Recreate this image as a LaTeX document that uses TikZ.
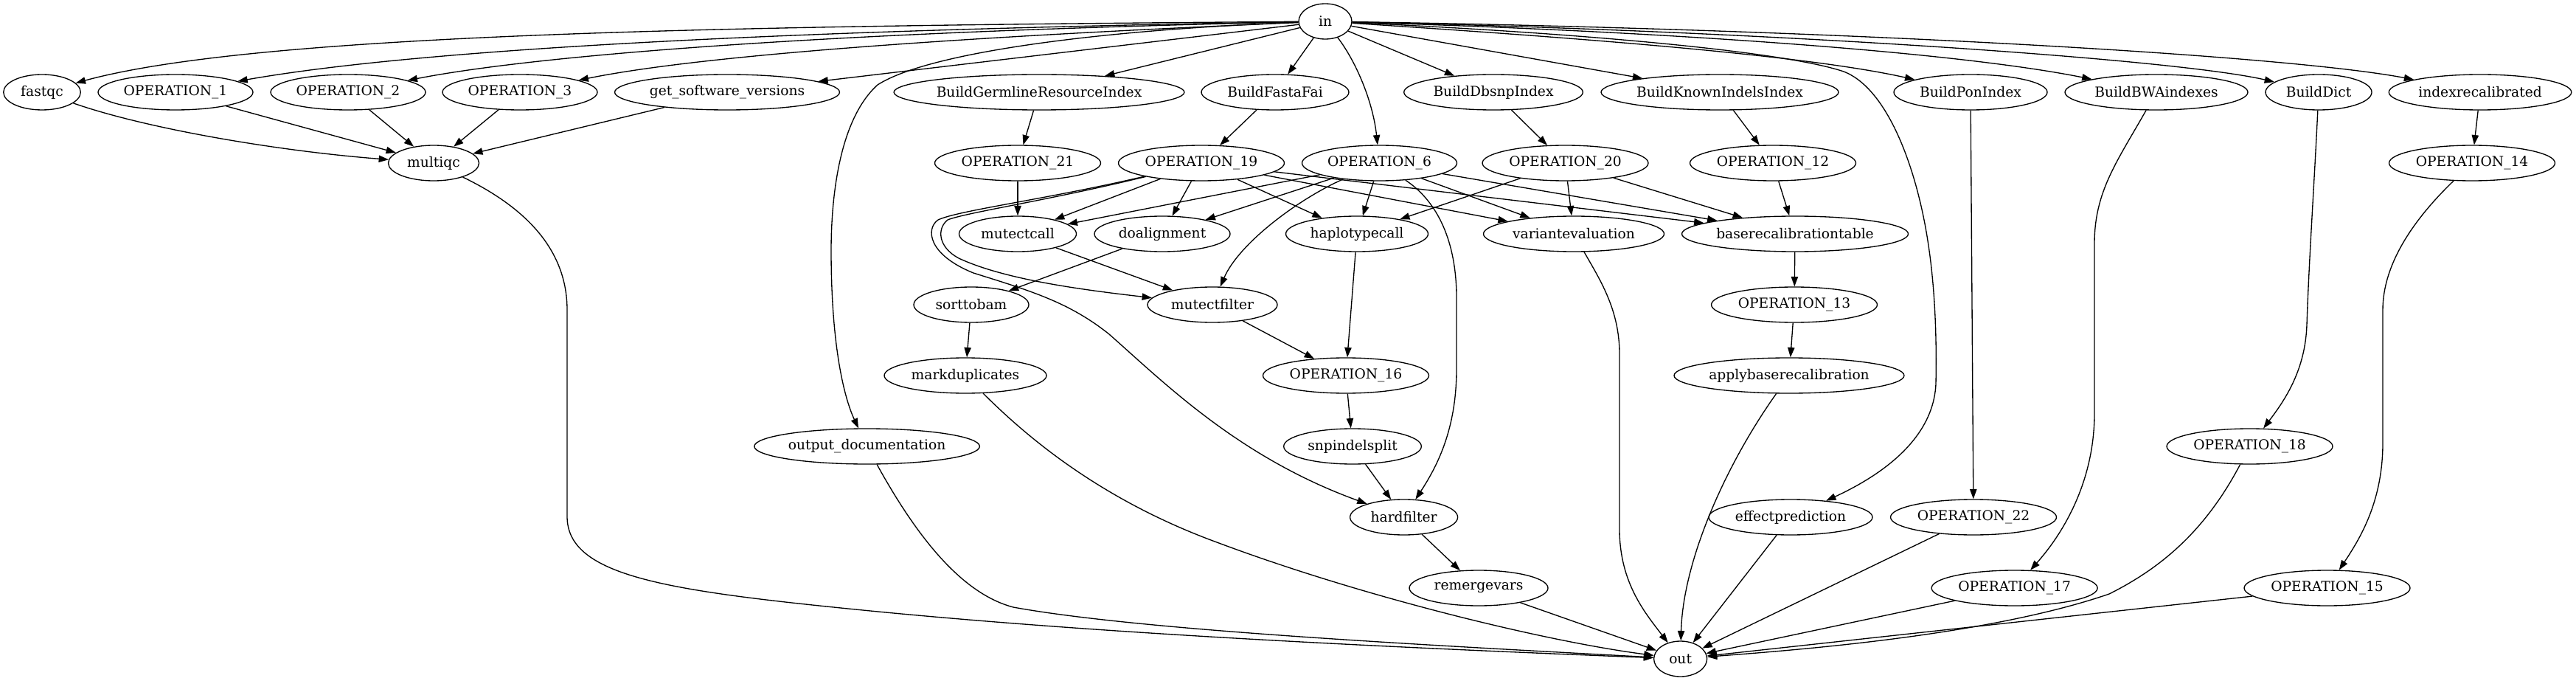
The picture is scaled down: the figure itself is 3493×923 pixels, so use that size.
\documentclass[tikz,border=0pt]{standalone}
\usepackage{fontspec}
\setmainfont{DejaVu Serif}
\usetikzlibrary{arrows.meta,shapes.geometric}
\begin{document}
\begin{tikzpicture}[x=0.75pt,y=-0.75pt,
  nd/.style={draw,ellipse,inner sep=0pt,minimum height=36pt,minimum width=#1,line width=1pt,font=\fontsize{14pt}{16pt}\selectfont},
  ed/.style={-{Triangle[length=10pt,width=7pt]},line width=1pt}]
\useasboundingbox (0,0) rectangle (3493,923);
% row 0
\node[nd=54pt] (in) at (1797,29) {in};
% row 1
\node[nd=78.4pt] (fastqc) at (57,125) {fastqc};
\node[nd=157.5pt] (op1) at (238,125) {OPERATION\_1};
\node[nd=157.5pt] (op2) at (472,125) {OPERATION\_2};
\node[nd=157.5pt] (op3) at (705,125) {OPERATION\_3};
\node[nd=228.75pt] (gsv) at (986,125) {get\_software\_versions};
\node[nd=293.6pt] (bgri) at (1409,125) {BuildGermlineResourceIndex};
\node[nd=150pt] (bff) at (1729,125) {BuildFastaFai};
\node[nd=182pt] (bdi) at (2025,125) {BuildDbsnpIndex};
\node[nd=241.5pt] (bkii) at (2332,125) {BuildKnownIndelsIndex};
\node[nd=156pt] (bpi) at (2672,125) {BuildPonIndex};
\node[nd=186pt] (bbwa) at (2924,125) {BuildBWAindexes};
\node[nd=108pt] (bd) at (3144,125) {BuildDict};
\node[nd=185.7pt] (ir) at (3363,125) {indexrecalibrated};
% row 2
\node[nd=92.25pt] (multiqc) at (588,221) {multiqc};
\node[nd=168.75pt] (op21) at (1380,221) {OPERATION\_21};
\node[nd=168.75pt] (op19) at (1629,221) {OPERATION\_19};
\node[nd=157.5pt] (op6) at (1870.5,221) {OPERATION\_6};
\node[nd=168.75pt] (op20) at (2122.5,221) {OPERATION\_20};
\node[nd=168.75pt] (op12) at (2404,221) {OPERATION\_12};
\node[nd=168.75pt] (op14) at (3352,221) {OPERATION\_14};
% row 3
\node[nd=119.25pt] (mutectcall) at (1380,317) {mutectcall};
\node[nd=138pt] (doalignment) at (1576,317) {doalignment};
\node[nd=144.75pt] (haplotypecall) at (1840,317) {haplotypecall};
\node[nd=183.75pt] (vareval) at (2134,317) {variantevaluation};
\node[nd=230.25pt] (brt) at (2434,317) {baserecalibrationtable};
% row 4
\node[nd=117pt] (sorttobam) at (1317,413) {sorttobam};
\node[nd=132pt] (mutectfilter) at (1644,413) {mutectfilter};
\node[nd=168.75pt] (op13) at (2433,413) {OPERATION\_13};
% row 5
\node[nd=165pt] (markdup) at (1309,509) {markduplicates};
\node[nd=168.75pt] (op16) at (1825,509) {OPERATION\_16};
\node[nd=234pt] (apply) at (2426,509) {applybaserecalibration};
% row 6
\node[nd=229.2pt] (od) at (1175.6,605) {output\_documentation};
\node[nd=140pt] (snp) at (1834,605) {snpindelsplit};
\node[nd=168.75pt] (op18) at (3050.5,605) {OPERATION\_18};
% row 7
\node[nd=109.5pt] (hardfilter) at (1903.6,701) {hardfilter};
\node[nd=166.5pt] (effp) at (2428,701) {effectprediction};
\node[nd=168.75pt] (op22) at (2676,701) {OPERATION\_22};
% row 8
\node[nd=141pt] (remergevars) at (2005,797) {remergevars};
\node[nd=168.75pt] (op17) at (2731.6,797) {OPERATION\_17};
\node[nd=168.75pt] (op15) at (3155.5,797) {OPERATION\_15};
% row 9
\node[nd=54pt] (out) at (2278.6,893) {out};

% edges from in
\draw[ed] (in) .. controls (1000,35) and (350,45) .. (fastqc);
\draw[ed] (in) .. controls (1000,42) and (550,70) .. (op1);
\draw[ed] (in) .. controls (1050,45) and (700,80) .. (op2);
\draw[ed] (in) .. controls (1300,50) and (950,75) .. (op3);
\draw[ed] (in) -- (gsv);
\draw[ed] (in) -- (bgri);
\draw[ed] (in) -- (bff);
\draw[ed] (in) .. controls (1840,85) and (1862,140) .. (op6);
\draw[ed] (in) -- (bdi);
\draw[ed] (in) -- (bkii);
\draw[ed] (in) .. controls (2150,52) and (2450,75) .. (bpi);
\draw[ed] (in) .. controls (2250,42) and (2650,70) .. (bbwa);
\draw[ed] (in) .. controls (2400,42) and (2950,80) .. (bd);
\draw[ed] (in) .. controls (2500,40) and (3100,75) .. (ir);
\draw[ed] (in) .. controls (2150,45) and (2420,70) .. (2500,97) .. controls (2560,120) and (2600,230) .. (2615,333) .. controls (2625,400) and (2626,470) .. (2625,520) .. controls (2622,590) and (2560,640) .. (effp);
\draw[ed] (in) .. controls (1500,40) and (1260,70) .. (1190,115) .. controls (1140,160) and (1127,260) .. (1127,340) .. controls (1127,470) and (1145,540) .. (od);

% multiqc
\draw[ed] (fastqc) .. controls (200,175) and (380,205) .. (multiqc);
\draw[ed] (op1) -- (multiqc);
\draw[ed] (op2) -- (multiqc);
\draw[ed] (op3) -- (multiqc);
\draw[ed] (gsv) -- (multiqc);
\draw[ed] (multiqc) .. controls (700,275) and (769,330) .. (769,420) -- (769,700) .. controls (769,780) and (900,800) .. (1160,826) .. controls (1500,860) and (1900,878) .. (out);

% row 1 to row 2
\draw[ed] (bgri) -- (op21);
\draw[ed] (bff) -- (op19);
\draw[ed] (bdi) -- (op20);
\draw[ed] (bkii) -- (op12);
\draw[ed] (bpi) -- (op22);
\draw[ed] (bbwa) .. controls (2870,220) and (2840,260) .. (2840,330) -- (2840,560) .. controls (2840,650) and (2800,720) .. (op17);
\draw[ed] (bd) .. controls (3138,250) and (3131,350) .. (3128,440) .. controls (3126,500) and (3100,540) .. (op18);
\draw[ed] (ir) -- (op14);
\draw[ed] (op14) .. controls (3270,300) and (3231,360) .. (3231,420) -- (3231,600) .. controls (3231,680) and (3200,730) .. (op15);

% row 2 to below
\draw[ed] (op21) -- (mutectcall);
\draw[ed] (op19) -- (mutectcall);
\draw[ed] (op19) -- (doalignment);
\draw[ed] (op19) -- (haplotypecall);
\draw[ed] (op19) -- (vareval);
\draw[ed] (op19) -- (brt);
\draw[ed] (op19) .. controls (1420,272) and (1310,288) .. (1285,298) .. controls (1270,310) and (1272,335) .. (1300,350) .. controls (1360,378) and (1460,392) .. (mutectfilter);
\draw[ed] (op19) .. controls (1420,270) and (1300,285) .. (1272,298) .. controls (1255,310) and (1258,345) .. (1320,370) .. controls (1400,395) and (1450,410) .. (1504,453) .. controls (1580,520) and (1680,620) .. (hardfilter);
\draw[ed] (op6) -- (mutectcall);
\draw[ed] (op6) -- (doalignment);
\draw[ed] (op6) -- (haplotypecall);
\draw[ed] (op6) -- (vareval);
\draw[ed] (op6) -- (brt);
\draw[ed] (op6) .. controls (1760,270) and (1680,330) .. (mutectfilter);
\draw[ed] (op6) .. controls (1945,270) and (1974,320) .. (1975,400) -- (1975,500) .. controls (1975,580) and (1950,630) .. (hardfilter);
\draw[ed] (op20) -- (haplotypecall);
\draw[ed] (op20) -- (vareval);
\draw[ed] (op20) -- (brt);
\draw[ed] (op12) -- (brt);

% lower chain
\draw[ed] (mutectcall) -- (mutectfilter);
\draw[ed] (doalignment) -- (sorttobam);
\draw[ed] (sorttobam) -- (markdup);
\draw[ed] (haplotypecall) -- (op16);
\draw[ed] (mutectfilter) -- (op16);
\draw[ed] (op16) -- (snp);
\draw[ed] (snp) -- (hardfilter);
\draw[ed] (hardfilter) -- (remergevars);
\draw[ed] (brt) -- (op13);
\draw[ed] (op13) -- (apply);

% into out
\draw[ed] (markdup) .. controls (1400,600) and (1500,680) .. (1650,735) .. controls (1850,810) and (2100,870) .. (out);
\draw[ed] (remergevars) -- (out);
\draw[ed] (od) .. controls (1250,740) and (1310,806) .. (1374,823) .. controls (1550,855) and (1950,875) .. (out);
\draw[ed] (vareval) .. controls (2170,380) and (2196,420) .. (2196,480) -- (2196,720) .. controls (2197,790) and (2230,830) .. (out);
\draw[ed] (apply) .. controls (2340,630) and (2282,760) .. (out);
\draw[ed] (effp) -- (out);
\draw[ed] (op22) -- (out);
\draw[ed] (op17) -- (out);
\draw[ed] (op18) .. controls (2990,720) and (2930,770) .. (2860,805) .. controls (2700,860) and (2450,880) .. (out);
\draw[ed] (op15) -- (out);
\end{tikzpicture}
\end{document}
